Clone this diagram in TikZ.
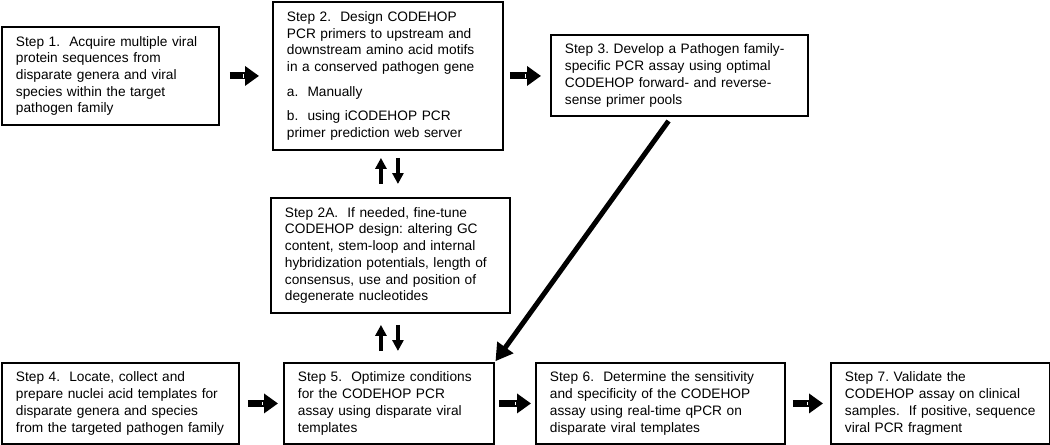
\documentclass[tikz,border=0pt]{standalone}
\usepackage{fontspec}
\setmainfont{Liberation Sans}
\usetikzlibrary{arrows.meta}
\tikzset{
stepbox/.style={draw, line width=1.1pt, anchor=north west, align=left, inner xsep=0.28cm, inner ysep=0pt,
  font=\fontsize{7.8pt}{9.5pt}\selectfont\frenchspacing},
blockarrow/.style={line width=0.14cm, -{Rectangle[length=0.07cm,width=0.1cm,fill=white,line width=0.5pt,sep=0pt]Triangle[length=0.28cm,width=0.38cm]}},
swaparrow/.style={line width=0.075cm, -{Triangle[length=0.22cm,width=0.22cm]}},
longarrow/.style={line width=0.1cm, -{Triangle[length=0.34cm,width=0.38cm]}}
}

\begin{document}
\begin{tikzpicture}[x=0.02cm,y=-0.02cm]
    \useasboundingbox (0,0) rectangle (1050,445);

    \node[stepbox, text width=3.78cm, minimum height=1.96cm] (s1) at (1,26) {Step 1.\ \ Acquire multiple viral\\ protein sequences from\\ disparate genera and viral\\ species within the target\\ pathogen family};
    \node[stepbox, text width=4.04cm, minimum height=2.96cm] (s2) at (272,1) {Step 2.\ \ Design CODEHOP\\ PCR primers to upstream and\\ downstream amino acid motifs\\ in a conserved pathogen gene\\[0.16cm] a.\ \ Manually\\[0.16cm] b.\ \ using iCODEHOP PCR\\ primer prediction web server};
    \node[stepbox, text width=4.58cm, minimum height=1.62cm] (s3) at (550,34) {Step 3. Develop a Pathogen family-\\ specific PCR assay using optimal\\ CODEHOP forward- and reverse-\\ sense primer pools};
    \node[stepbox, text width=4.22cm, minimum height=2.30cm] (s2a) at (270,197) {Step 2A.\ \ If needed, fine-tune\\ CODEHOP design: altering GC\\ content, stem-loop and internal\\ hybridization potentials, length of\\ consensus, use and position of\\ degenerate nucleotides};
    \node[stepbox, text width=4.18cm, minimum height=1.62cm] (s4) at (1,362) {Step 4.\ \ Locate, collect and\\ prepare nuclei acid templates for\\ disparate genera and species\\ from the targeted pathogen family};
    \node[stepbox, text width=3.64cm, minimum height=1.62cm] (s5) at (283,362) {Step 5.\ \ Optimize conditions\\ for the CODEHOP PCR\\ assay using disparate viral\\ templates};
    \node[stepbox, text width=4.42cm, minimum height=1.62cm] (s6) at (535,362) {Step 6.\ \ Determine the sensitivity\\ and specificity of the CODEHOP\\ assay using real-time qPCR on\\ disparate viral templates};
    \node[stepbox, text width=3.82cm, minimum height=1.62cm] (s7) at (830,362) {Step 7. Validate the\\ CODEHOP assay on clinical\\ samples.\ \ If positive, sequence\\ viral PCR fragment};

    % step to step
    \draw[blockarrow, shorten <=0.2cm, shorten >=0.26cm] (s1.east) -- (s1.east -| s2.west);
    \draw[blockarrow, shorten <=0.12cm, shorten >=0.18cm] (s2.east) -- (s2.east -| s3.west);
    \draw[blockarrow, shorten <=0.16cm, shorten >=0.1cm] (s4.east) -- (s5.west);
    \draw[blockarrow, shorten <=0.08cm, shorten >=0.08cm] (s5.east) -- (s6.west);
    \draw[blockarrow, shorten <=0.14cm, shorten >=0.14cm] (s6.east) -- (s7.west);

    % back and forth with 2A
    \draw[swaparrow, shorten <=0.26cm, shorten >=0.14cm] ([xshift=-0.19cm]s2a.north) -- ([xshift=-0.19cm]s2a.north |- s2.south);
    \draw[swaparrow, shorten <=0.14cm, shorten >=0.26cm] ([xshift=0.15cm]s2a.north |- s2.south) -- ([xshift=0.15cm]s2a.north);
    \draw[swaparrow, shorten <=0.22cm, shorten >=0.22cm] ([xshift=-0.19cm]s2a.south |- s5.north) -- ([xshift=-0.19cm]s2a.south);
    \draw[swaparrow, shorten <=0.22cm, shorten >=0.22cm] ([xshift=0.15cm]s2a.south) -- ([xshift=0.15cm]s2a.south |- s5.north);

    \draw[longarrow, shorten <=0.1cm, shorten >=0.02cm] ([xshift=-0.16cm]s3.south) -- (s5.north east);
\end{tikzpicture}
\end{document}
